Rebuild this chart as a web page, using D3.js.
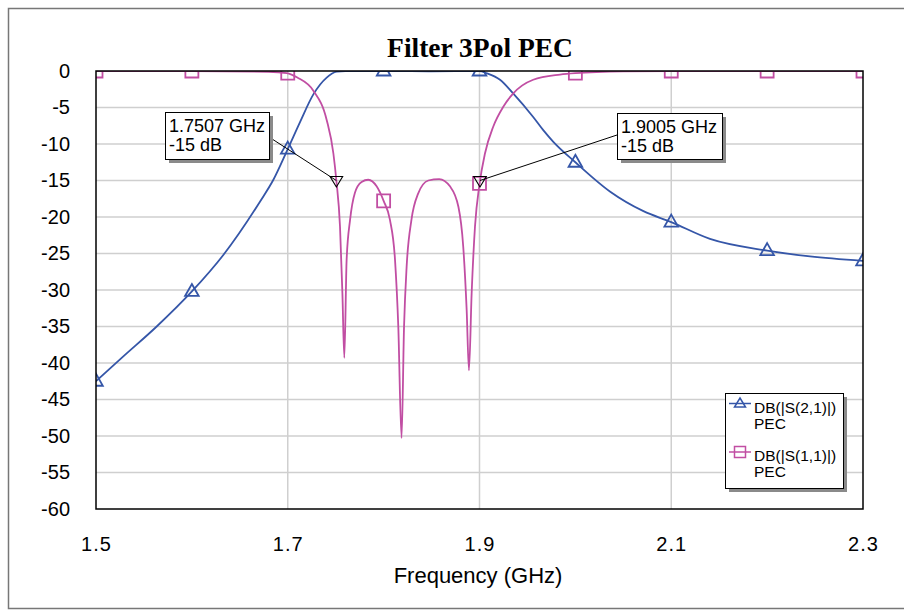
<!DOCTYPE html>
<html>
<head>
<meta charset="utf-8">
<script src="https://cdn.jsdelivr.net/npm/d3@7"></script>
<style>
  html, body { margin: 0; padding: 0; background: #fff; }
  svg { display: block; }
  text { font-family: "Liberation Sans", Arial, sans-serif; }
</style>
</head>
<body>
<script>
// ---------------- data ----------------
const chartTitle = "Filter 3Pol PEC";
const xAxisTitle = "Frequency (GHz)";
const xTicks = [1.5, 1.7, 1.9, 2.1, 2.3];
const yTicks = [0, -5, -10, -15, -20, -25, -30, -35, -40, -45, -50, -55, -60];
const xGrid = [1.7, 1.9, 2.1];

// S21 trace (frequency GHz, dB)
const s21Freq = [1.50, 1.5285, 1.5633, 1.60, 1.6328, 1.671, 1.685, 1.70, 1.7128, 1.7267, 1.7406, 1.751, 1.76, 1.80, 1.85, 1.90, 1.9074, 1.9214, 1.9353, 1.956, 1.9665, 1.977, 2.00, 2.036, 2.071, 2.10, 2.1404, 2.20, 2.2447, 2.30];
const s21Db   = [-42.5, -39.1, -35.0, -30.2, -25.2, -17.9, -14.9, -10.7, -7.0, -3.2, -0.9, -0.1, 0, 0, -0.05, 0, -0.3, -1.2, -3.1, -6.3, -8.1, -9.7, -12.5, -16.5, -19.2, -20.7, -23.0, -24.6, -25.4, -26.0];

// S11 trace (frequency GHz, dB)
const s11Freq = [1.50, 1.60, 1.68, 1.699, 1.71, 1.7267, 1.7406, 1.7476, 1.7507, 1.7545, 1.757, 1.759, 1.7614, 1.765, 1.770, 1.777, 1.784, 1.7927, 1.80, 1.8066, 1.8119, 1.8153, 1.8187, 1.8213, 1.824, 1.829, 1.836, 1.8466, 1.858, 1.8692, 1.878, 1.883, 1.8866, 1.889, 1.8918, 1.8953, 1.90, 1.9057, 1.9144, 1.9248, 1.935, 1.956, 1.984, 2.00, 2.05, 2.10, 2.30];
const s11Db   = [0, 0, -0.1, -0.3, -0.9, -2.7, -6.7, -11.3, -15.0, -21.3, -30.4, -39.3, -25.9, -20.4, -16.7, -15.2, -14.9, -15.8, -17.8, -20.4, -25.9, -35.0, -50.3, -35.0, -26.8, -20.4, -16.8, -15.0, -14.8, -15.8, -18.6, -24.0, -32.7, -41.0, -30.5, -21.3, -15.5, -11.3, -7.6, -4.9, -3.1, -1.2, -0.5, -0.3, -0.05, 0, 0];

// symbol markers every 0.1 GHz
const symFreq  = [1.5, 1.6, 1.7, 1.8, 1.9, 2.0, 2.1, 2.2, 2.3];
const s21SymDb = [-42.5, -30.2, -10.7, 0, 0, -12.5, -20.7, -24.6, -26.0];
const s11SymDb = [0, 0, -0.3, -17.8, -15.4, -0.3, 0, 0, 0];

// data markers (callouts)
const mkFreq  = [1.7507, 1.9005];
const mkDb    = [-15, -15];
const mkLines = [["1.7507 GHz", "-15 dB"], ["1.9005 GHz", "-15 dB"]];

const legendNames = [["DB(|S(2,1)|)", "PEC"], ["DB(|S(1,1)|)", "PEC"]];

// ---------------- layout / style ----------------
const W = 904, H = 610;
const P = { left: 96, right: 863, top: 71, bottom: 509 };
const blue = "#3556a8", magenta = "#c14ea3", grid = "#cfcfcf";

const svg = d3.select("body").append("svg").attr("width", W).attr("height", H);
svg.append("rect").attr("width", W).attr("height", H).attr("fill", "#fff");

// outer frame
svg.append("rect").attr("x", 8.5).attr("y", 8.5).attr("width", 910).attr("height", 600)
  .attr("fill", "none").attr("stroke", "#777").attr("stroke-width", 1.5);

const x = d3.scaleLinear().domain([1.5, 2.3]).range([P.left, P.right]);
const y = d3.scaleLinear().domain([-60, 0]).range([P.bottom, P.top]);

// title
svg.append("text").attr("x", 480).attr("y", 57)
  .attr("text-anchor", "middle")
  .style("font-family", "'Liberation Serif', 'Times New Roman', serif")
  .style("font-weight", "bold").style("font-size", "27.5px").attr("fill", "#000")
  .text(chartTitle);

// grid
const g = svg.append("g");
g.selectAll(".hg").data(yTicks.filter(d => d > -60 && d < 0)).join("line")
  .attr("x1", P.left).attr("x2", P.right)
  .attr("y1", d => y(d)).attr("y2", d => y(d))
  .attr("stroke", grid).attr("stroke-width", 1.5);
g.selectAll(".vg").data(xGrid).join("line")
  .attr("y1", P.top).attr("y2", P.bottom)
  .attr("x1", d => x(d)).attr("x2", d => x(d))
  .attr("stroke", grid).attr("stroke-width", 1.5);

// axes (labels only)
const yAxis = svg.append("g").attr("transform", `translate(${P.left},0)`)
  .call(d3.axisLeft(y).tickValues(yTicks).tickSize(0).tickPadding(26).tickFormat(d => String(d)));
const xAxis = svg.append("g").attr("transform", `translate(0,${P.bottom})`)
  .call(d3.axisBottom(x).tickValues(xTicks).tickSize(0).tickPadding(28).tickFormat(d3.format(".1f")));
[yAxis, xAxis].forEach(a => {
  a.select(".domain").remove();
  a.selectAll("text").style("font-family", "'Liberation Sans', Arial, sans-serif")
    .style("font-size", "20px").attr("fill", "#000");
});
xAxis.selectAll("text").style("letter-spacing", "1px");

svg.append("text").attr("x", 478).attr("y", 583).attr("text-anchor", "middle")
  .style("font-size", "22px").attr("fill", "#000").text(xAxisTitle);

// clip
svg.append("clipPath").attr("id", "plotclip").append("rect")
  .attr("x", P.left).attr("y", P.top)
  .attr("width", P.right - P.left).attr("height", P.bottom - P.top);
const plot = svg.append("g").attr("clip-path", "url(#plotclip)");

const line = d3.line().x(d => x(d[0])).y(d => y(d[1])).curve(d3.curveMonotoneX);
const s21 = s21Freq.map((f, i) => [f, s21Db[i]]);
const s11 = s11Freq.map((f, i) => [f, s11Db[i]]);

plot.append("path").datum(s21).attr("d", line).attr("fill", "none")
  .attr("stroke", blue).attr("stroke-width", 1.8);
plot.append("path").datum(s11).attr("d", line).attr("fill", "none")
  .attr("stroke", magenta).attr("stroke-width", 1.8);

const triPath = "M0,-7.5L6.8,4.5L-6.8,4.5Z";
const sqPath = "M-6.5,-6.5H6.5V6.5H-6.5Z";
plot.selectAll(".tri").data(symFreq).join("path")
  .attr("d", triPath)
  .attr("transform", (d, i) => `translate(${x(d)},${y(s21SymDb[i])})`)
  .attr("fill", "none").attr("stroke", blue).attr("stroke-width", 1.8);
plot.selectAll(".sq").data(symFreq).join("path")
  .attr("d", sqPath)
  .attr("transform", (d, i) => `translate(${x(d)},${y(s11SymDb[i])})`)
  .attr("fill", "none").attr("stroke", magenta).attr("stroke-width", 1.8);

// plot border
svg.append("rect").attr("x", P.left).attr("y", P.top)
  .attr("width", P.right - P.left).attr("height", P.bottom - P.top)
  .attr("fill", "none").attr("stroke", "#000").attr("stroke-width", 1.5);

// callouts
const boxes = [
  { x: 165, y: 112, w: 104, h: 47, ax: 269, ay: 137 },
  { x: 617, y: 113, w: 105, h: 46, ax: 617, ay: 135 }
];
mkFreq.forEach((f, i) => {
  const b = boxes[i];
  const px = x(f), py = y(mkDb[i]);
  svg.append("line").attr("x1", b.ax).attr("y1", b.ay).attr("x2", px).attr("y2", py)
    .attr("stroke", "#000").attr("stroke-width", 1);
  svg.append("path").attr("d", "M-6.3,-4L6.3,-4L0,6.5Z")
    .attr("transform", `translate(${px},${py})`)
    .attr("fill", "none").attr("stroke", "#000").attr("stroke-width", 1.1);
  svg.append("rect").attr("x", b.x + 4).attr("y", b.y + 4).attr("width", b.w).attr("height", b.h)
    .attr("fill", "#8a8a8a");
  svg.append("rect").attr("x", b.x + 0.5).attr("y", b.y + 0.5).attr("width", b.w).attr("height", b.h)
    .attr("fill", "#fff").attr("stroke", "#000").attr("stroke-width", 1);
  mkLines[i].forEach((t, j) => {
    svg.append("text").attr("x", b.x + 4).attr("y", b.y + 20 + j * 19)
      .style("font-size", "18px").attr("fill", "#000").text(t);
  });
});

// legend
const L = { x: 725, y: 393, w: 118, h: 95 };
svg.append("rect").attr("x", L.x + 4).attr("y", L.y + 4).attr("width", L.w).attr("height", L.h).attr("fill", "#8a8a8a");
svg.append("rect").attr("x", L.x + 0.5).attr("y", L.y + 0.5).attr("width", L.w).attr("height", L.h)
  .attr("fill", "#fff").attr("stroke", "#000").attr("stroke-width", 1);
const legColors = [blue, magenta];
const legSyms = ["M0,-5.5L5.5,3.5L-5.5,3.5Z", "M-5.5,-5.5H5.5V5.5H-5.5Z"];
legendNames.forEach((nm, i) => {
  const ly = L.y + 10.5 + i * 48.5;
  svg.append("line").attr("x1", L.x + 4).attr("x2", L.x + 26).attr("y1", ly).attr("y2", ly)
    .attr("stroke", legColors[i]).attr("stroke-width", 1.5);
  svg.append("path").attr("d", legSyms[i]).attr("transform", `translate(${L.x + 15},${ly})`)
    .attr("fill", "none").attr("stroke", legColors[i]).attr("stroke-width", 1.5);
  nm.forEach((t, j) => {
    svg.append("text").attr("x", L.x + 29).attr("y", L.y + 20 + i * 48 + j * 16)
      .style("font-size", "15.5px").attr("fill", "#000").text(t);
  });
});
</script>
</body>
</html>
